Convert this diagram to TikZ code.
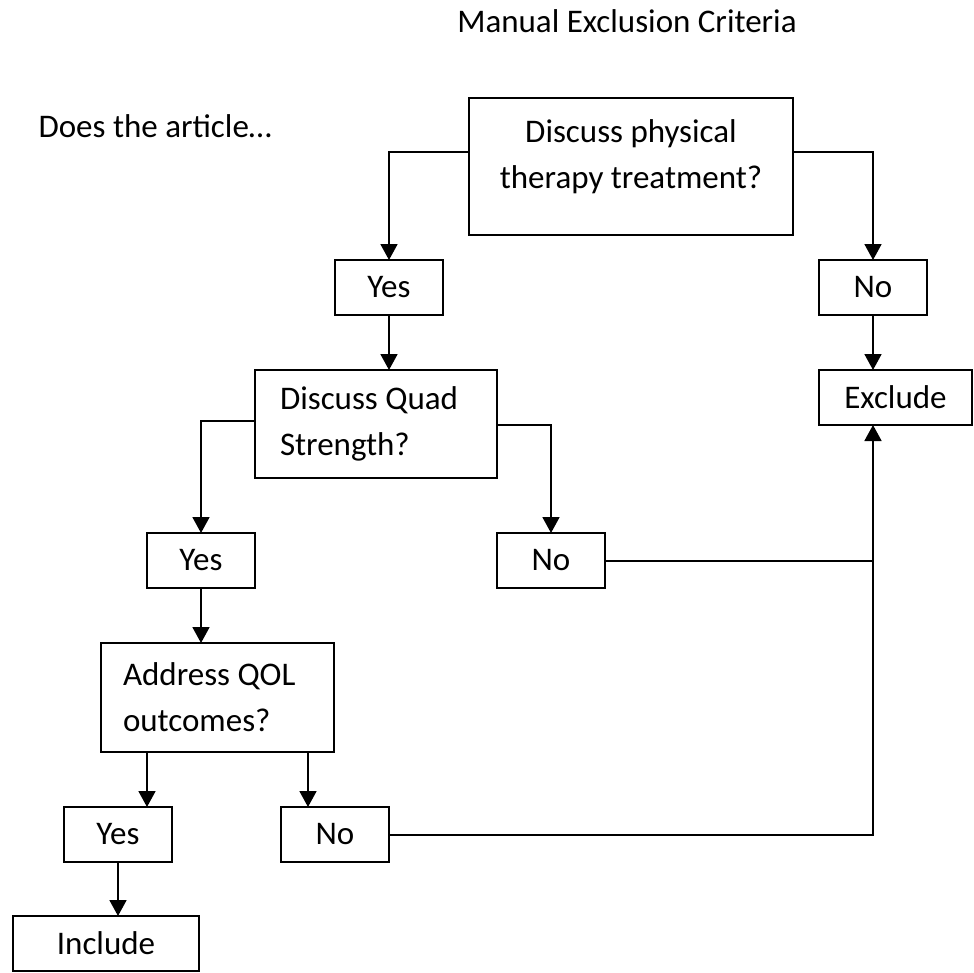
\documentclass[tikz,border=0pt]{standalone}
\usepackage{fontspec}
\setmainfont{Carlito}
\usetikzlibrary{arrows.meta,positioning}

\begin{document}
\begin{tikzpicture}[x=1pt,y=1pt,every node/.style={font=\fontsize{33}{46}\selectfont}]
  \tikzstyle{qbox}=[draw,line width=1.6pt,outer sep=0pt,inner xsep=25pt,inner ysep=0pt,align=flush left]
  \tikzstyle{ans}=[draw,line width=1.6pt,outer sep=0pt,inner sep=0pt,
    minimum width=108pt,minimum height=55pt,align=center]
  \tikzstyle{flow}=[-{Triangle[length=16pt,width=17pt]},line width=1.8pt]
  \tikzstyle{plain}=[line width=1.8pt]

  \useasboundingbox (0,0) rectangle (974,-972);

  % -- Headings --
  \node[anchor=base] (title) at (627,-32) {Manual Exclusion Criteria};
  \node[anchor=base west] (lead) at (35,-137) {Does the article\ldots};

  % -- First question --
  \node[qbox,minimum width=324pt,minimum height=137pt,
    label={[align=center,yshift=10pt]center:Discuss physical\\therapy treatment?}] (phys) at (631,-166.5) {};
  \node[ans,below left=25pt and 26pt of phys] (yes1) {Yes};
  \node[ans,below right=25pt and 26pt of phys] (no1) {No};
  \node[ans,minimum width=153pt,below=55pt of no1.south west,anchor=north west] (exclude) {Exclude};

  % -- Second question --
  \node[qbox,text width=192pt,minimum height=108pt,below=55pt of yes1.south west,
    anchor=north west,xshift=-80pt] (quad) {Discuss Quad\\Strength?};
  \node[ans,below=55pt of quad.south west,anchor=north east] (yes2) {Yes};
  \node[ans,below=55pt of quad.south east,anchor=north west] (no2) {No};

  % -- Third question --
  \node[qbox,inner xsep=22pt,text width=189pt,minimum height=109pt,below=55pt of yes2.south west,
    anchor=north west,xshift=-46pt] (qol) {Address QOL\\outcomes?};
  \node[ans,below=55pt of qol.south west,anchor=north west,xshift=-37pt] (yes3) {Yes};
  \node[ans,below=55pt of qol.south east,anchor=north east,xshift=55pt] (no3) {No};
  \node[ans,minimum width=186pt,below=54pt of yes3.south west,anchor=north west,xshift=-51pt] (include) {Include};
  \coordinate (qolY) at ([xshift=46pt]qol.south west);
  \coordinate (qolN) at ([xshift=207pt]qol.south west);

  % -- Flows --
  \draw[flow] ([yshift=14.5pt]phys.west) -| (yes1.north);
  \draw[flow] ([yshift=14.5pt]phys.east) -| (no1.north);
  \draw[flow] (yes1.south) -- (yes1.south |- quad.north);
  \draw[flow] (no1.south) -- (no1.south |- exclude.north);
  \draw[flow] ([yshift=3pt]quad.west) -| (yes2.north);
  \draw[flow] ([yshift=-1pt]quad.east) -| (no2.north);
  \draw[flow] (yes2.south) -- (yes2.south |- qol.north);
  \draw[flow] (qolY) -- (qolY |- yes3.north);
  \draw[flow] (qolN) -- (qolN |- no3.north);
  \draw[flow] (yes3.south) -- (yes3.south |- include.north);
  \draw[plain] ([yshift=-0.5pt]no2.east) -- ([yshift=-0.5pt]no2.east -| no1.south);
  \draw[flow] ([yshift=-0.5pt]no3.east) -| (no1.south |- exclude.south);
\end{tikzpicture}
\end{document}
